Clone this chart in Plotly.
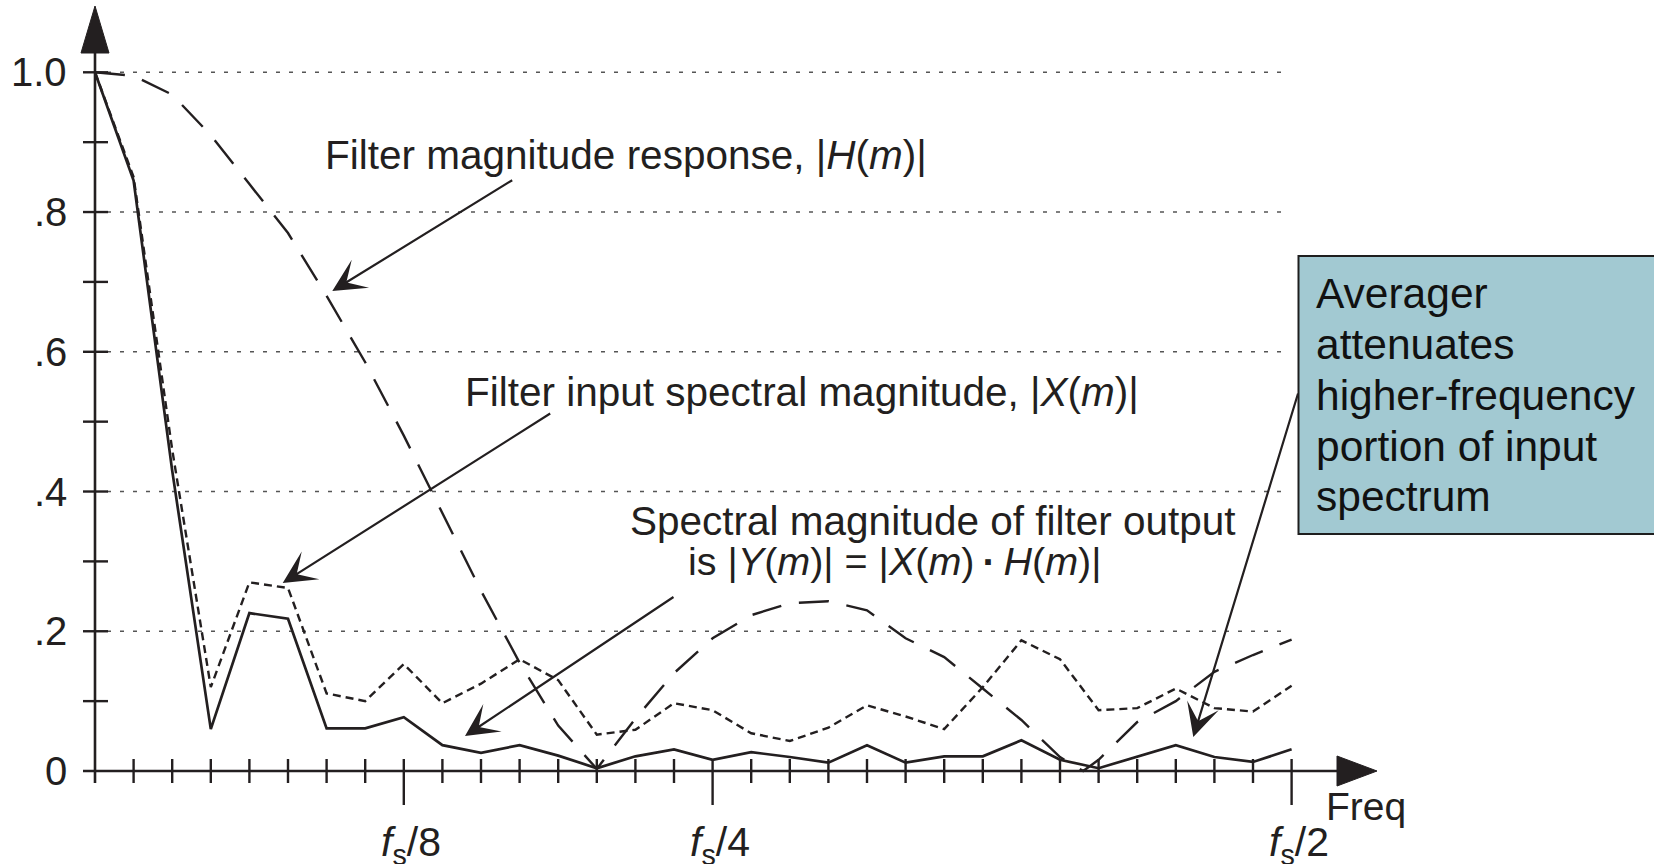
import plotly.graph_objects as go

# ---------------- data ----------------
m_bins = list(range(32))
x_input = [1.0, 0.85, 0.46, 0.12, 0.27, 0.262, 0.111, 0.10, 0.153, 0.097, 0.125,
           0.16, 0.13, 0.052, 0.059, 0.097, 0.087, 0.054, 0.043, 0.062, 0.094,
           0.078, 0.06, 0.12, 0.187, 0.16, 0.087, 0.09, 0.118, 0.09, 0.085, 0.122]
y_output = [1.0, 0.845, 0.43, 0.06, 0.226, 0.218, 0.061, 0.061, 0.077, 0.037, 0.026,
            0.037, 0.022, 0.004, 0.021, 0.031, 0.016, 0.027, 0.02, 0.012, 0.037,
            0.012, 0.021, 0.021, 0.044, 0.016, 0.004, 0.021, 0.037, 0.02, 0.013, 0.031]
h_m = [0, 1, 2, 3, 4, 5, 6, 7, 8, 9, 10, 11, 12, 13, 14, 15, 16, 17, 18, 19, 20,
       21, 22, 23, 24, 25, 25.6, 26, 27, 28, 29, 30, 31]
h_resp = [1.0, 0.995, 0.968, 0.91, 0.84, 0.77, 0.68, 0.585, 0.48, 0.37, 0.258,
          0.155, 0.065, 0.003, 0.075, 0.14, 0.19, 0.223, 0.24, 0.243, 0.23,
          0.19, 0.163, 0.118, 0.073, 0.02, 0.0, 0.016, 0.07, 0.1, 0.142, 0.166, 0.188]

grid_vals = [0.2, 0.4, 0.6, 0.8, 1.0]
ytick_vals = [0.1, 0.2, 0.3, 0.4, 0.5, 0.6, 0.7, 0.8, 0.9, 1.0]
ylabel_vals = [0, 0.2, 0.4, 0.6, 0.8, 1.0]
ylabel_text = ["0", ".2", ".4", ".6", ".8", "1.0"]
xtick_vals = list(range(1, 32))
xmajor_vals = [8, 16, 31]
xmajor_text = ["<i>f</i><sub>s</sub>/8", "<i>f</i><sub>s</sub>/4", "<i>f</i><sub>s</sub>/2"]
box_lines = ["Averager", "attenuates", "higher-frequency", "portion of input", "spectrum"]

# ---------------- layout geometry ----------------
W, H = 1654, 864
X0PX, XSTEP = 95.0, 38.6      # pixel of m=0, pixels per bin
Y0PX, YSCALE = 771.0, 698.7   # pixel of 0, pixels per unit


def dx(px):
    return (px - X0PX) / XSTEP


def dy(py):
    return (Y0PX - py) / YSCALE


INK = "#231f20"
FONT = "Liberation Sans, Arial, Helvetica, sans-serif"

fig = go.Figure()

fig.add_trace(go.Scatter(x=h_m, y=h_resp, mode="lines",
                         line=dict(color=INK, width=2.4, dash="30px,18px"),
                         hoverinfo="skip", showlegend=False))
fig.add_trace(go.Scatter(x=m_bins, y=x_input, mode="lines",
                         line=dict(color=INK, width=2.4, dash="8px,5px"),
                         hoverinfo="skip", showlegend=False))
fig.add_trace(go.Scatter(x=m_bins, y=y_output, mode="lines",
                         line=dict(color=INK, width=2.7),
                         hoverinfo="skip", showlegend=False))

shapes = []
for g in grid_vals:
    shapes.append(dict(type="line", xref="x", yref="y", x0=dx(107), x1=dx(1285),
                       y0=g, y1=g, layer="below",
                       line=dict(color="#555555", width=1.5, dash="4px,9px")))
shapes.append(dict(type="line", xref="x", yref="y", x0=0, x1=0, y0=dy(783), y1=dy(50),
                   line=dict(color=INK, width=2.6)))
shapes.append(dict(type="line", xref="x", yref="y", x0=dx(83), x1=dx(1340), y0=0, y1=0,
                   line=dict(color=INK, width=2.6)))
shapes.append(dict(type="path", xref="x", yref="y",
                   path=f"M {dx(95-14)},{dy(53)} L {dx(95+14)},{dy(53)} L 0,{dy(6)} Z",
                   fillcolor=INK, line=dict(color=INK, width=1)))
shapes.append(dict(type="path", xref="x", yref="y",
                   path=f"M {dx(1337)},{dy(771-15)} L {dx(1337)},{dy(771+15)} L {dx(1377)},0 Z",
                   fillcolor=INK, line=dict(color=INK, width=1)))
for v in ytick_vals:
    shapes.append(dict(type="line", xref="x", yref="y", x0=dx(83), x1=dx(108), y0=v, y1=v,
                       line=dict(color=INK, width=2.4)))
for t in xtick_vals:
    bottom = 805 if t in xmajor_vals else 783
    shapes.append(dict(type="line", xref="x", yref="y", x0=t, x1=t, y0=dy(759), y1=dy(bottom),
                       line=dict(color=INK, width=2.4)))
shapes.append(dict(type="rect", xref="paper", yref="paper",
                   x0=1298.5 / W, x1=1670 / W, y0=1 - 534 / H, y1=1 - 256 / H,
                   fillcolor="#a2c9d2", line=dict(color="#1e1e1e", width=2)))

annotations = []
for v, t in zip(ylabel_vals, ylabel_text):
    annotations.append(dict(x=dx(69), y=v, xref="x", yref="y", text=t, showarrow=False,
                            xanchor="right", yanchor="middle",
                            font=dict(family=FONT, size=40, color=INK)))
for v, t in zip(xmajor_vals, xmajor_text):
    annotations.append(dict(x=v + dx(102) - dx(95), y=dy(845), xref="x", yref="y", text=t,
                            showarrow=False, xanchor="center", yanchor="middle",
                            font=dict(family=FONT, size=41, color=INK)))
annotations.append(dict(x=1324 / W, y=1 - 806 / H, xref="paper", yref="paper", text="Freq",
                        showarrow=False, xanchor="left", yanchor="middle",
                        font=dict(family=FONT, size=39, color=INK)))

text_font = dict(family=FONT, size=40.5, color=INK)
annotations.append(dict(x=323 / W, y=1 - 155 / H, xref="paper", yref="paper",
                        text="Filter magnitude response, |<i>H</i>(<i>m</i>)|",
                        showarrow=False, xanchor="left", yanchor="middle", font=text_font))
annotations.append(dict(x=463 / W, y=1 - 392 / H, xref="paper", yref="paper",
                        text="Filter input spectral magnitude, |<i>X</i>(<i>m</i>)|",
                        showarrow=False, xanchor="left", yanchor="middle", font=text_font))
annotations.append(dict(x=628 / W, y=1 - 521 / H, xref="paper", yref="paper",
                        text="Spectral magnitude of filter output",
                        showarrow=False, xanchor="left", yanchor="middle", font=text_font))
annotations.append(dict(x=686 / W, y=1 - 561 / H, xref="paper", yref="paper",
                        text="is |<i>Y</i>(<i>m</i>)| = |<i>X</i>(<i>m</i>)\u2009<b>·</b>\u2009<i>H</i>(<i>m</i>)|",
                        showarrow=False, xanchor="left", yanchor="middle",
                        font=dict(family=FONT, size=39.5, color=INK)))
box_centers = [293, 344, 395, 446, 496]
for line_text, cy in zip(box_lines, box_centers):
    annotations.append(dict(x=1314 / W, y=1 - cy / H, xref="paper", yref="paper",
                            text=line_text, showarrow=False, xanchor="left", yanchor="middle",
                            font=dict(family=FONT, size=42.5, color="#111111")))

arrows = [((332.3, 291), (513.7, 179.3)),
          ((282.7, 583), (551.7, 412.5)),
          ((465.0, 736), (675.0, 596.0)),
          ((1193.3, 737), (1298.5, 392.0))]
for (hx, hy), (tx, ty) in arrows:
    annotations.append(dict(x=dx(hx), y=dy(hy), ax=dx(tx), ay=dy(ty), xref="x", yref="y",
                            axref="x", ayref="y", text="", showarrow=True,
                            arrowhead=3, arrowsize=2.5, arrowwidth=2.2, arrowcolor=INK,
                            standoff=0, startstandoff=0))

fig.update_layout(
    width=W, height=H, margin=dict(l=0, r=0, t=0, b=0),
    paper_bgcolor="white", plot_bgcolor="white",
    xaxis=dict(range=[dx(0), dx(W)], visible=False, fixedrange=True),
    yaxis=dict(range=[dy(H), dy(0)], visible=False, fixedrange=True),
    shapes=shapes, annotations=annotations, showlegend=False,
    hovermode=False,
)

fig.write_html("out.html", config={"displayModeBar": False, "staticPlot": True},
               post_script="document.body.style.margin='0';document.body.style.overflow='hidden';")
